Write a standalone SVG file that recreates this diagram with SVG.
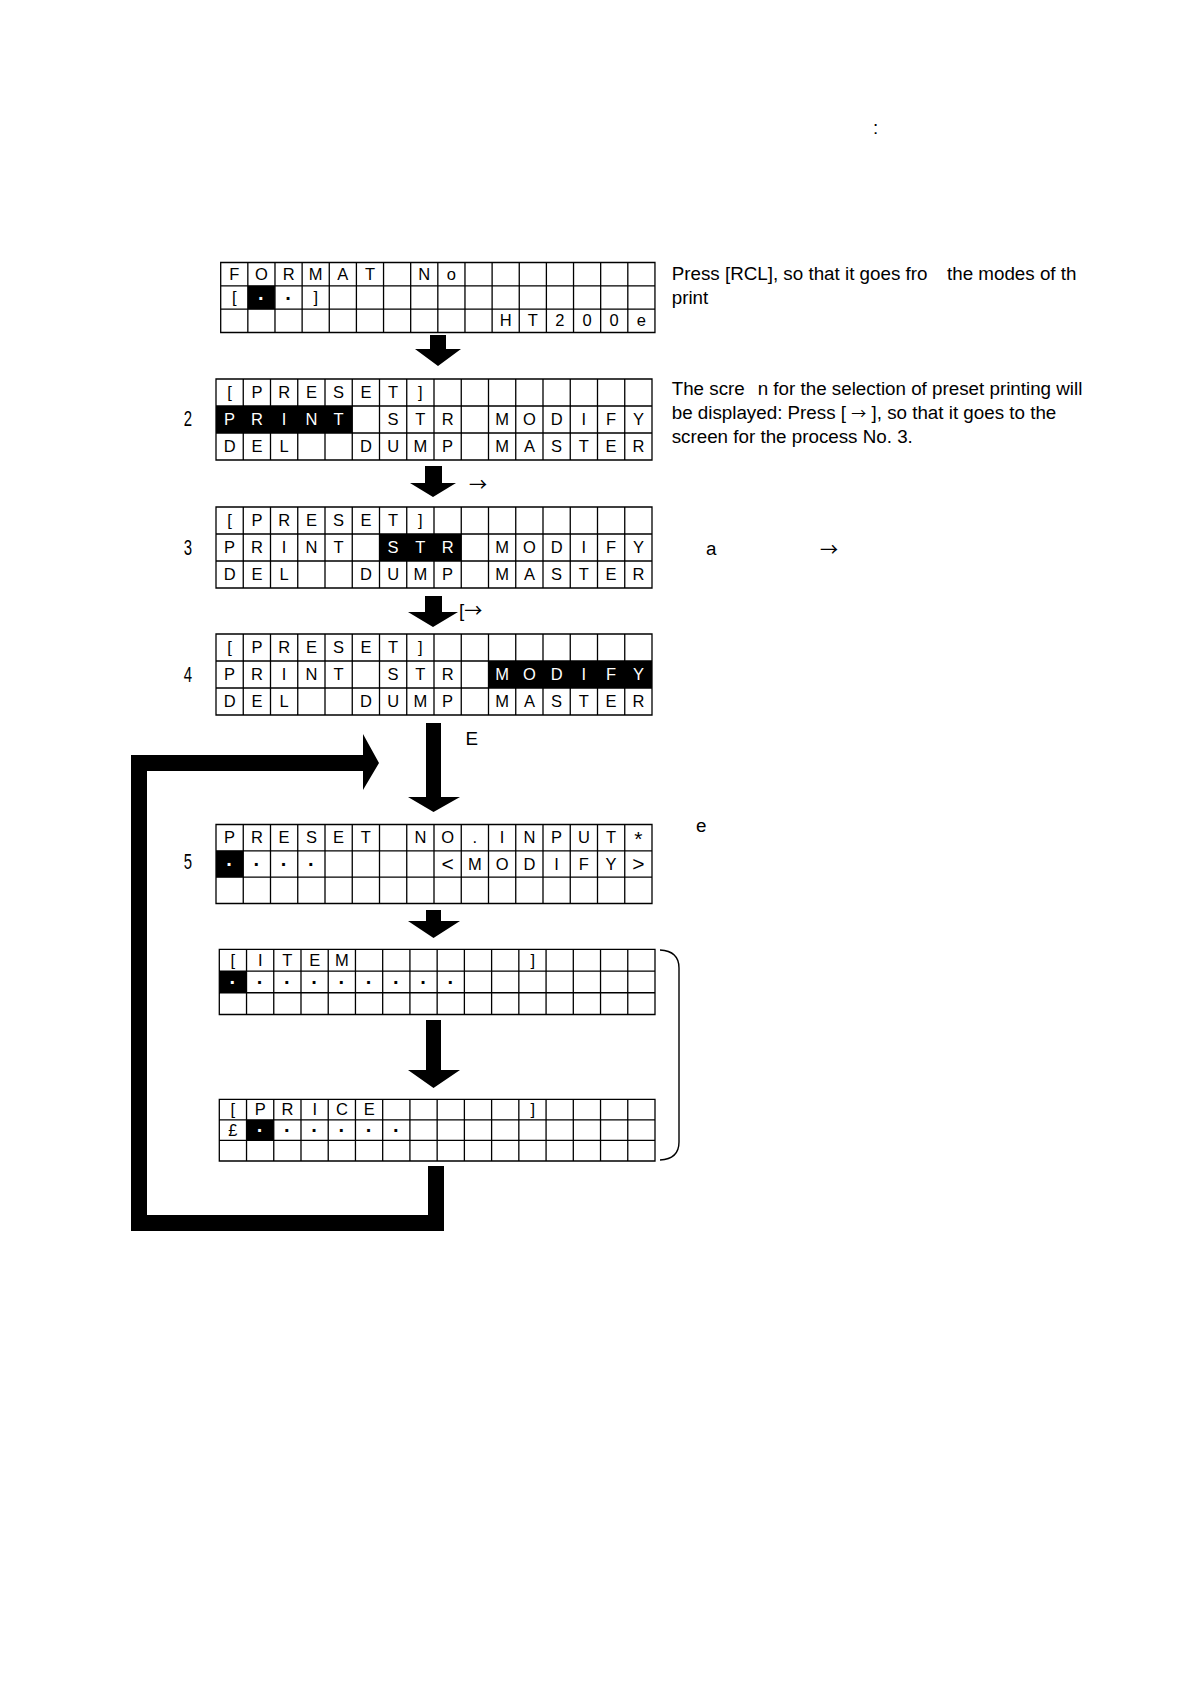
<svg xmlns="http://www.w3.org/2000/svg" xmlns:xlink="http://www.w3.org/1999/xlink" width="1190" height="1684" viewBox="0 0 1190 1684">
<style>
.bg{fill:#fff}
.gl{fill:none;stroke:#000;stroke-width:1.3}
.c{font-family:"Liberation Sans",Arial,sans-serif;font-size:16.5px;text-anchor:middle;fill:#000}
.d{font-family:"Liberation Sans",Arial,sans-serif;font-size:20px;font-weight:bold;text-anchor:middle;fill:#000}
.g{font-size:21px}
.t{font-family:"Liberation Sans",Arial,sans-serif;font-size:18.8px;fill:#000}
.a{font-family:"Noto Sans CJK JP",sans-serif;font-size:18px}
.ai{font-family:"Noto Sans CJK JP",sans-serif;font-size:15px}
.n{font-family:"Liberation Sans",Arial,sans-serif;font-size:22px;text-anchor:middle;fill:#000}
.blk{fill:#000}
.br{fill:none;stroke:#000;stroke-width:1.4}
.w{fill:#fff}
</style>
<defs>
<path id="grid" vector-effect="non-scaling-stroke" d="M0 0H436V81H0Z M27.25 0V81M54.5 0V81M81.75 0V81M109 0V81M136.25 0V81M163.5 0V81M190.75 0V81M218 0V81M245.25 0V81M272.5 0V81M299.75 0V81M327 0V81M354.25 0V81M381.5 0V81M408.75 0V81M0 27H436M0 54H436"/>
</defs>
<rect class="bg" x="0" y="0" width="1190" height="1684"/>

<text class="t" x="873" y="134">:</text>

<g id="screen1" transform="translate(220.7,262.5)">
<rect class="blk" x="27.1" y="23.3" width="27.1" height="23.4"/>
<use xlink:href="#grid" class="gl" transform="scale(0.996,0.864)"/>
<text class="c" x="13.6" y="17.2">F</text><text class="c" x="40.7" y="17.2">O</text><text class="c" x="67.9" y="17.2">R</text><text class="c" x="95" y="17.2">M</text><text class="c" x="122.1" y="17.2">A</text><text class="c" x="149.3" y="17.2">T</text><text class="c" x="203.5" y="17.2">N</text><text class="c" x="230.7" y="17.2">o</text>
<text class="c" x="13.6" y="40.5">[</text><text class="d w" x="40.7" y="42">·</text><text class="d" x="67.9" y="42">·</text><text class="c" x="95" y="40.5">]</text>
<text class="c" x="285" y="63.8">H</text><text class="c" x="312.1" y="63.8">T</text><text class="c" x="339.2" y="63.8">2</text><text class="c" x="366.4" y="63.8">0</text><text class="c" x="393.5" y="63.8">0</text><text class="c" x="420.7" y="63.8">e</text>
</g>

<g id="screen2" transform="translate(216,379)">
<rect class="blk" x="0" y="27" width="136.25" height="27"/>
<use xlink:href="#grid" class="gl"/>
<text class="c" x="13.6" y="19">[</text><text class="c" x="40.9" y="19">P</text><text class="c" x="68.1" y="19">R</text><text class="c" x="95.4" y="19">E</text><text class="c" x="122.6" y="19">S</text><text class="c" x="149.9" y="19">E</text><text class="c" x="177.1" y="19">T</text><text class="c" x="204.4" y="19">]</text>
<text class="c w" x="13.6" y="46">P</text><text class="c w" x="40.9" y="46">R</text><text class="c w" x="68.1" y="46">I</text><text class="c w" x="95.4" y="46">N</text><text class="c w" x="122.6" y="46">T</text>
<text class="c" x="177.1" y="46">S</text><text class="c" x="204.4" y="46">T</text><text class="c" x="231.6" y="46">R</text>
<text class="c" x="286.1" y="46">M</text><text class="c" x="313.4" y="46">O</text><text class="c" x="340.6" y="46">D</text><text class="c" x="367.9" y="46">I</text><text class="c" x="395.1" y="46">F</text><text class="c" x="422.4" y="46">Y</text>
<text class="c" x="13.6" y="73">D</text><text class="c" x="40.9" y="73">E</text><text class="c" x="68.1" y="73">L</text><text class="c" x="149.9" y="73">D</text><text class="c" x="177.1" y="73">U</text><text class="c" x="204.4" y="73">M</text><text class="c" x="231.6" y="73">P</text>
<text class="c" x="286.1" y="73">M</text><text class="c" x="313.4" y="73">A</text><text class="c" x="340.6" y="73">S</text><text class="c" x="367.9" y="73">T</text><text class="c" x="395.1" y="73">E</text><text class="c" x="422.4" y="73">R</text>
</g>
<text class="n" transform="translate(188,426) scale(0.68,1)">2</text>

<g id="screen3" transform="translate(216,507)">
<rect class="blk" x="163.5" y="27" width="81.75" height="27"/>
<use xlink:href="#grid" class="gl"/>
<text class="c" x="13.6" y="19">[</text><text class="c" x="40.9" y="19">P</text><text class="c" x="68.1" y="19">R</text><text class="c" x="95.4" y="19">E</text><text class="c" x="122.6" y="19">S</text><text class="c" x="149.9" y="19">E</text><text class="c" x="177.1" y="19">T</text><text class="c" x="204.4" y="19">]</text>
<text class="c" x="13.6" y="46">P</text><text class="c" x="40.9" y="46">R</text><text class="c" x="68.1" y="46">I</text><text class="c" x="95.4" y="46">N</text><text class="c" x="122.6" y="46">T</text>
<text class="c w" x="177.1" y="46">S</text><text class="c w" x="204.4" y="46">T</text><text class="c w" x="231.6" y="46">R</text>
<text class="c" x="286.1" y="46">M</text><text class="c" x="313.4" y="46">O</text><text class="c" x="340.6" y="46">D</text><text class="c" x="367.9" y="46">I</text><text class="c" x="395.1" y="46">F</text><text class="c" x="422.4" y="46">Y</text>
<text class="c" x="13.6" y="73">D</text><text class="c" x="40.9" y="73">E</text><text class="c" x="68.1" y="73">L</text><text class="c" x="149.9" y="73">D</text><text class="c" x="177.1" y="73">U</text><text class="c" x="204.4" y="73">M</text><text class="c" x="231.6" y="73">P</text>
<text class="c" x="286.1" y="73">M</text><text class="c" x="313.4" y="73">A</text><text class="c" x="340.6" y="73">S</text><text class="c" x="367.9" y="73">T</text><text class="c" x="395.1" y="73">E</text><text class="c" x="422.4" y="73">R</text>
</g>
<text class="n" transform="translate(188,555) scale(0.68,1)">3</text>

<g id="screen4" transform="translate(216,634)">
<rect class="blk" x="272.5" y="27" width="163.5" height="27"/>
<use xlink:href="#grid" class="gl"/>
<text class="c" x="13.6" y="19">[</text><text class="c" x="40.9" y="19">P</text><text class="c" x="68.1" y="19">R</text><text class="c" x="95.4" y="19">E</text><text class="c" x="122.6" y="19">S</text><text class="c" x="149.9" y="19">E</text><text class="c" x="177.1" y="19">T</text><text class="c" x="204.4" y="19">]</text>
<text class="c" x="13.6" y="46">P</text><text class="c" x="40.9" y="46">R</text><text class="c" x="68.1" y="46">I</text><text class="c" x="95.4" y="46">N</text><text class="c" x="122.6" y="46">T</text>
<text class="c" x="177.1" y="46">S</text><text class="c" x="204.4" y="46">T</text><text class="c" x="231.6" y="46">R</text>
<text class="c w" x="286.1" y="46">M</text><text class="c w" x="313.4" y="46">O</text><text class="c w" x="340.6" y="46">D</text><text class="c w" x="367.9" y="46">I</text><text class="c w" x="395.1" y="46">F</text><text class="c w" x="422.4" y="46">Y</text>
<text class="c" x="13.6" y="73">D</text><text class="c" x="40.9" y="73">E</text><text class="c" x="68.1" y="73">L</text><text class="c" x="149.9" y="73">D</text><text class="c" x="177.1" y="73">U</text><text class="c" x="204.4" y="73">M</text><text class="c" x="231.6" y="73">P</text>
<text class="c" x="286.1" y="73">M</text><text class="c" x="313.4" y="73">A</text><text class="c" x="340.6" y="73">S</text><text class="c" x="367.9" y="73">T</text><text class="c" x="395.1" y="73">E</text><text class="c" x="422.4" y="73">R</text>
</g>
<text class="n" transform="translate(188,682) scale(0.68,1)">4</text>

<g id="screen5" transform="translate(216,824.5)">
<rect class="blk" x="0" y="26.33" width="27.25" height="26.33"/>
<use xlink:href="#grid" class="gl" transform="scale(1,0.9753)"/>
<text class="c" x="13.6" y="18.9">P</text><text class="c" x="40.9" y="18.9">R</text><text class="c" x="68.1" y="18.9">E</text><text class="c" x="95.4" y="18.9">S</text><text class="c" x="122.6" y="18.9">E</text><text class="c" x="149.9" y="18.9">T</text><text class="c" x="204.4" y="18.9">N</text><text class="c" x="231.6" y="18.9">O</text><text class="c" x="258.9" y="18.9">.</text><text class="c" x="286.1" y="18.9">I</text><text class="c" x="313.4" y="18.9">N</text><text class="c" x="340.6" y="18.9">P</text><text class="c" x="367.9" y="18.9">U</text><text class="c" x="395.1" y="18.9">T</text><text class="c g" x="422.4" y="21">*</text>
<text class="d w" x="13.6" y="46.5">·</text><text class="d" x="40.9" y="46.5">·</text><text class="d" x="68.1" y="46.5">·</text><text class="d" x="95.4" y="46.5">·</text>
<text class="c g" x="231.6" y="46.5">&lt;</text><text class="c" x="258.9" y="45.2">M</text><text class="c" x="286.1" y="45.2">O</text><text class="c" x="313.4" y="45.2">D</text><text class="c" x="340.6" y="45.2">I</text><text class="c" x="367.9" y="45.2">F</text><text class="c" x="395.1" y="45.2">Y</text><text class="c g" x="422.4" y="46.5">&gt;</text>
</g>
<text class="n" transform="translate(188,869) scale(0.68,1)">5</text>

<g id="screen6" transform="translate(219.3,949.3)">
<rect class="blk" x="0" y="21.7" width="27.25" height="21.7"/>
<use xlink:href="#grid" class="gl" transform="scale(0.9993,0.805)"/>
<text class="c" x="13.6" y="16.4">[</text><text class="c" x="40.9" y="16.4">I</text><text class="c" x="68.1" y="16.4">T</text><text class="c" x="95.4" y="16.4">E</text><text class="c" x="122.6" y="16.4">M</text><text class="c" x="313.4" y="16.4">]</text>
<text class="d w" x="13.6" y="39.5">·</text><text class="d" x="40.9" y="39.5">·</text><text class="d" x="68.1" y="39.5">·</text><text class="d" x="95.4" y="39.5">·</text><text class="d" x="122.6" y="39.5">·</text><text class="d" x="149.9" y="39.5">·</text><text class="d" x="177.1" y="39.5">·</text><text class="d" x="204.4" y="39.5">·</text><text class="d" x="231.6" y="39.5">·</text>
</g>

<g id="screen7" transform="translate(219.3,1099.3)">
<rect class="blk" x="27.25" y="20.57" width="27.25" height="20.57"/>
<use xlink:href="#grid" class="gl" transform="scale(0.9993,0.762)"/>
<text class="c" x="13.6" y="15.9">[</text><text class="c" x="40.9" y="15.9">P</text><text class="c" x="68.1" y="15.9">R</text><text class="c" x="95.4" y="15.9">I</text><text class="c" x="122.6" y="15.9">C</text><text class="c" x="149.9" y="15.9">E</text><text class="c" x="313.4" y="15.9">]</text>
<text class="c" x="13.6" y="36.4">£</text><text class="d w" x="40.9" y="37.8">·</text><text class="d" x="68.1" y="37.8">·</text><text class="d" x="95.4" y="37.8">·</text><text class="d" x="122.6" y="37.8">·</text><text class="d" x="149.9" y="37.8">·</text><text class="d" x="177.1" y="37.8">·</text>
</g>

<g id="bracket">
<path class="br" d="M660 950 Q679 951 679 968 L679 1142 Q679 1159 660 1160"/>
</g>

<g id="connectors">
<polygon class="blk" points="430,335 446,335 446,349 461,349 438,366 415,349 430,349"/>
<polygon class="blk" points="425,466 442,466 442,483 456,483 433,497 410,483 425,483"/>
<polygon class="blk" points="425,596 442,596 442,612 458,612 433,627 408,612 425,612"/>
<polygon class="blk" points="426,723 441,723 441,797 460,797 433.5,812 408,797 426,797"/>
<polygon class="blk" points="426,910 441,910 441,921 460,921 433.5,938 408,921 426,921"/>
<polygon class="blk" points="426,1020 441,1020 441,1070 460,1070 433.5,1088 408,1070 426,1070"/>
<polygon class="blk" points="131,755 363,755 363,734 379,763 363,790 363,771 147,771 147,1215 428,1215 428,1166 444,1166 444,1231 131,1231"/>
</g>

<g id="labels">
<text class="t a" x="469" y="491">→</text>
<text class="t" x="459" y="616.5">[<tspan class="a" dy="0.5">→</tspan></text>
<text class="t" x="465.5" y="745">E</text>
<text class="t" x="696" y="832">e</text>
<text class="t" x="706" y="555">a</text>
<text class="t a" x="820" y="556">→</text>
</g>

<g id="notes">
<text class="t" x="671.7" y="280">Press [RCL], so that it goes fro</text>
<text class="t" x="947" y="280">the modes of th</text>
<text class="t" x="671.7" y="304">print</text>
<text class="t" x="671.7" y="395">The scre</text>
<text class="t" x="757.7" y="395">n for the selection of preset printing will</text>
<text class="t" x="671.7" y="419">be displayed: Press [ <tspan class="ai">→</tspan> ], so that it goes to the</text>
<text class="t" x="671.7" y="443">screen for the process No. 3.</text>
</g>
</svg>
